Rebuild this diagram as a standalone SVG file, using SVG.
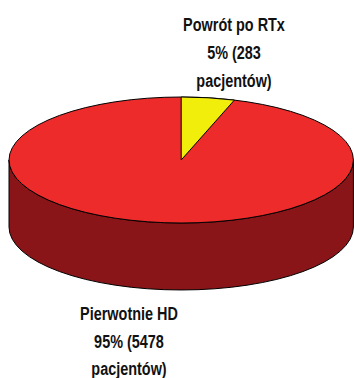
<svg xmlns="http://www.w3.org/2000/svg" width="354" height="378" viewBox="0 0 354 378">
  <style>
    .edge { stroke: #000; stroke-width: 1; stroke-linejoin: round; }
    .side { fill: #8A1519; }
    .red { fill: #ED2B2B; }
    .yellow { fill: #F2EE0C; }
    .lbl { font-family: "Liberation Sans", Arial, sans-serif; font-weight: bold; font-size: 19px; fill: #111; text-anchor: middle; }
  </style>
  <rect width="354" height="378" fill="#fff"/>
  <g id="pie-side">
    <path class="side edge" d="M 9,160 L 9,227 A 172.2,63 0 0 0 353.4,227 L 353.4,160 A 172.2,63 0 0 1 9,160 Z"/>
  </g>
  <g id="slice-pierwotnie">
    <ellipse class="red edge" cx="181.2" cy="160" rx="172.2" ry="63"/>
  </g>
  <g id="slice-powrot">
    <path class="yellow edge" d="M 181.2,160 L 181.2,97 A 172.2,63 0 0 1 234.4,100.1 Z"/>
  </g>
  <g id="label-powrot" transform="translate(234,0) scale(0.76,1)">
    <text class="lbl" x="0" y="31.5">Powrót po RTx</text>
    <text class="lbl" x="0" y="59.5">5% (283</text>
    <text class="lbl" x="0" y="87">pacjentów)</text>
  </g>
  <g id="label-pierwotnie" transform="translate(129,0) scale(0.76,1)">
    <text class="lbl" x="0" y="320">Pierwotnie HD</text>
    <text class="lbl" x="0" y="348">95% (5478</text>
    <text class="lbl" x="0" y="375">pacjentów)</text>
  </g>
</svg>
